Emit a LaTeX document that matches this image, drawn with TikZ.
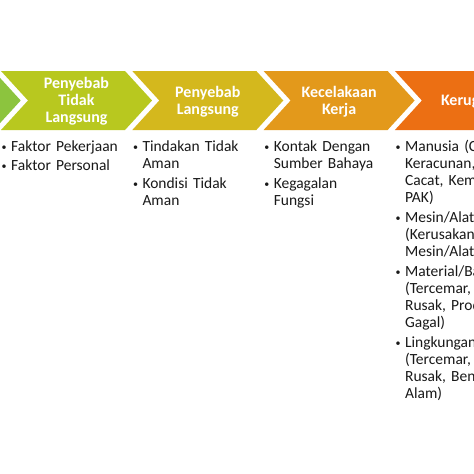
\documentclass[tikz,border=0pt]{standalone}
\usepackage{fontspec}
\setmainfont{Carlito}
\usetikzlibrary{positioning}
\usepackage{xcolor}
\definecolor{stepgreen}{HTML}{8CC43E}
\definecolor{steplime}{HTML}{B8C81F}
\definecolor{stepmustard}{HTML}{D4B81D}
\definecolor{steporange}{HTML}{E3991B}
\definecolor{stepred}{HTML}{EC6F13}
\newcommand\bul[1]{\par\noindent\makebox[10pt][l]{\hspace{0.5pt}\raisebox{1.2pt}{\fontsize{10}{10}\selectfont\textbullet}}\begin{tabular}[t]{@{}l@{}}#1\end{tabular}}

\begin{document}
\begin{tikzpicture}[
                x=1pt, y=-1pt,
                headtxt/.style={text=white, font=\fontsize{16}{17}\selectfont\bfseries, align=center, inner sep=0pt},
                bullets/.style={anchor=north west, inner sep=0pt, text width=200pt, text=black!90,
                    font=\fontsize{15.5}{17}\selectfont\setlength{\parskip}{2pt}}
            ]
            \clip (0,0) rectangle (474,474);
            \fill[white] (0,0) rectangle (474,474);
            % chevrons
            \foreach \x/\c in {-130.3/stepgreen, 1/steplime, 132.3/stepmustard, 263.6/steporange, 394.9/stepred}
                \fill[\c] (\x,71) -- ++(124,0) -- ++(27,29.5) -- ++(-27,29.5) -- ++(-124,0) -- ++(27,-29.5) -- cycle;

            \node[headtxt] (tidak) at (76.5,101.5) {Penyebab\\Tidak\\Langsung};
            \node[headtxt] (langsung) at (207.8,101.5) {Penyebab\\Langsung};
            \node[headtxt] (kecelakaan) at (339.1,101.5) {Kecelakaan\\Kerja};
            \node[headtxt] (kerugian) at (470.4,101.5) {Kerugian};

            % lists below
            \node[bullets] (faktor) at (1,132) {\bul{Faktor Pekerjaan} \bul{Faktor Personal}};
            \node[bullets] (tindakan) at (132.3,132) {\bul{Tindakan Tidak\\Aman} \bul{Kondisi Tidak\\Aman}};
            \node[bullets] (kontak) at (263.6,132) {\bul{Kontak Dengan\\Sumber Bahaya} \bul{Kegagalan\\Fungsi}};
            \node[bullets] (dampak) at (394.9,132) {\bul{Manusia (Cidera,\\Keracunan,\\Cacat, Kematian,\\PAK)}
                \bul{Mesin/Alat\\(Kerusakan\\Mesin/Alat)}
                \bul{Material/Bahan\\(Tercemar,\\Rusak, Produk\\Gagal)}
                \bul{Lingkungan\\(Tercemar,\\Rusak, Bencana\\Alam)}};
        \end{tikzpicture}
\end{document}
